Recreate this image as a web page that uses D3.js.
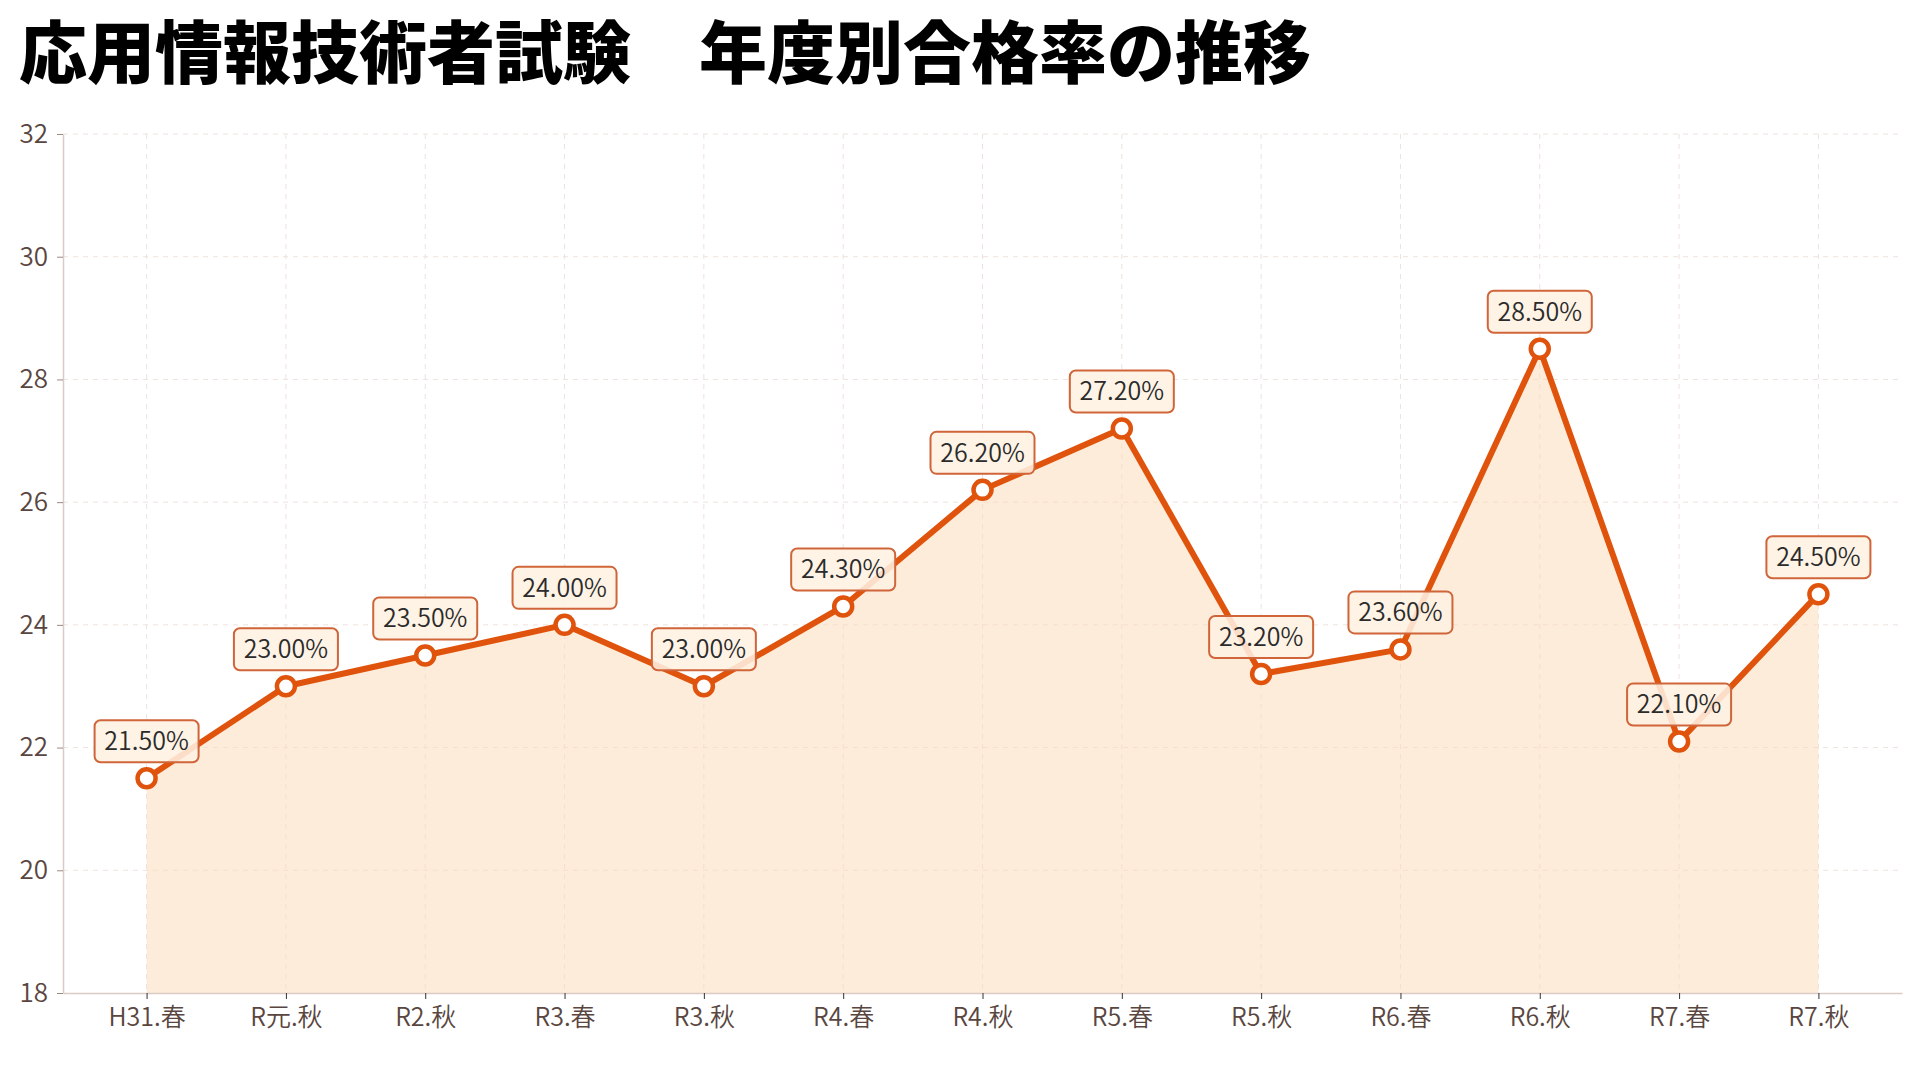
<!DOCTYPE html>
<html lang="ja">
<head>
<meta charset="utf-8">
<title>応用情報技術者試験 年度別合格率の推移</title>
<script src="https://cdn.jsdelivr.net/npm/d3@7"></script>
<style>
    html, body { margin: 0; padding: 0; background: #ffffff; }
    body { width: 1920px; height: 1080px; overflow: hidden; font-family: "Noto Sans CJK JP", "Noto Sans", sans-serif; }
    .axis text { font-family: "Noto Sans CJK JP", "Noto Sans", sans-serif; fill: #5a4640; font-weight: 350; }
    .grid line { stroke: #efe2dd; stroke-dasharray: 5,5; }
</style>
</head>
<body>
<div id="chart"></div>
<script>
// 試験回と合格率(%)
const periods = ["H31.春", "R元.秋", "R2.秋", "R3.春", "R3.秋", "R4.春", "R4.秋", "R5.春", "R5.秋", "R6.春", "R6.秋", "R7.春", "R7.秋"];
const passRates = [21.5, 23.0, 23.5, 24.0, 23.0, 24.3, 26.2, 27.2, 23.2, 23.6, 28.5, 22.1, 24.5];
const yTicks = [18, 20, 22, 24, 26, 28, 30, 32];

const titleText = "応用情報技術者試験\u3000年度別合格率の推移";

let data = periods.map((p, i) => ({ period: p, rate: passRates[i] }));

let margin = { top: 134, right: 18, bottom: 87, left: 63 };
let width = 1920 - margin.left - margin.right;
let height = 1080 - margin.top - margin.bottom;

let svg = d3.select("#chart").append("svg")
    .attr("width", 1920)
    .attr("height", 1080);

// Title
svg.append("text")
    .attr("x", 19)
    .attr("y", 78)
    .attr("font-size", 68)
    .attr("font-weight", 900)
    .attr("fill", "#000")
    .attr("font-family", "'Noto Sans CJK JP', sans-serif")
    .text(titleText);

let g = svg.append("g")
    .attr("transform", "translate(" + margin.left + "," + margin.top + ")");

// Scales
let x = d3.scalePoint()
    .domain(periods)
    .range([0, width])
    .padding(0.6);

let y = d3.scaleLinear()
    .domain([18, 32])
    .range([height, 0]);

// Grid
g.append("g")
    .attr("class", "grid")
    .selectAll("line.h")
    .data(yTicks.filter(t => t > 18))
    .enter().append("line")
    .attr("x1", 0)
    .attr("x2", width)
    .attr("y1", d => y(d))
    .attr("y2", d => y(d));

g.append("g")
    .attr("class", "grid")
    .selectAll("line.v")
    .data(periods)
    .enter().append("line")
    .attr("x1", d => x(d))
    .attr("x2", d => x(d))
    .attr("y1", 0)
    .attr("y2", height);

// Area
let area = d3.area()
    .x(d => x(d.period))
    .y0(y(18))
    .y1(d => y(d.rate));

g.append("path")
    .datum(data)
    .attr("d", area)
    .attr("fill", "#fbdcbc")
    .attr("fill-opacity", 0.55);

// Axes
let xAxis = d3.axisBottom(x).tickSizeInner(6).tickSizeOuter(0).tickPadding(9);
let yAxis = d3.axisLeft(y).tickValues(yTicks).tickSizeInner(6).tickSizeOuter(0).tickPadding(9);

let gx = g.append("g")
    .attr("class", "axis x-axis")
    .attr("transform", "translate(0," + height + ")")
    .call(xAxis);
gx.select(".domain").attr("stroke", "#dccbc5").attr("stroke-width", 1.5);
gx.selectAll(".tick line").attr("stroke", "#333");
gx.selectAll(".tick text").attr("font-size", 25);

let gy = g.append("g")
    .attr("class", "axis y-axis")
    .call(yAxis);
gy.select(".domain").attr("stroke", "#dccbc5").attr("stroke-width", 1.5);
gy.selectAll(".tick line").attr("stroke", "#9a8a84");
gy.selectAll(".tick text").attr("font-size", 26);

// Line
let line = d3.line()
    .x(d => x(d.period))
    .y(d => y(d.rate))
    .curve(d3.curveLinear);

g.append("path")
    .datum(data)
    .attr("d", line)
    .attr("fill", "none")
    .attr("stroke", "#e0530c")
    .attr("stroke-width", 6)
    .attr("stroke-linejoin", "round");

// Points
g.selectAll(".point")
    .data(data)
    .enter().append("circle")
    .attr("class", "point")
    .attr("cx", d => x(d.period))
    .attr("cy", d => y(d.rate))
    .attr("r", 9)
    .attr("fill", "#fff")
    .attr("stroke", "#e0530c")
    .attr("stroke-width", 4.5);

// Value labels
let labels = g.selectAll(".label")
    .data(data)
    .enter().append("g")
    .attr("class", "label")
    .attr("transform", d => "translate(" + x(d.period) + "," + (y(d.rate) - 37) + ")");

labels.append("rect")
    .attr("x", -52)
    .attr("y", -21)
    .attr("width", 104)
    .attr("height", 42)
    .attr("rx", 6)
    .attr("fill", "#fff1e3")
    .attr("fill-opacity", 0.88)
    .attr("stroke", "#cf6538")
    .attr("stroke-width", 2);

labels.append("text")
    .attr("text-anchor", "middle")
    .attr("dy", "0.35em")
    .attr("font-size", 25)
    .attr("font-weight", 350)
    .attr("fill", "#2b2b2b")
    .text(d => d.rate.toFixed(2) + "%");
</script>
</body>
</html>
